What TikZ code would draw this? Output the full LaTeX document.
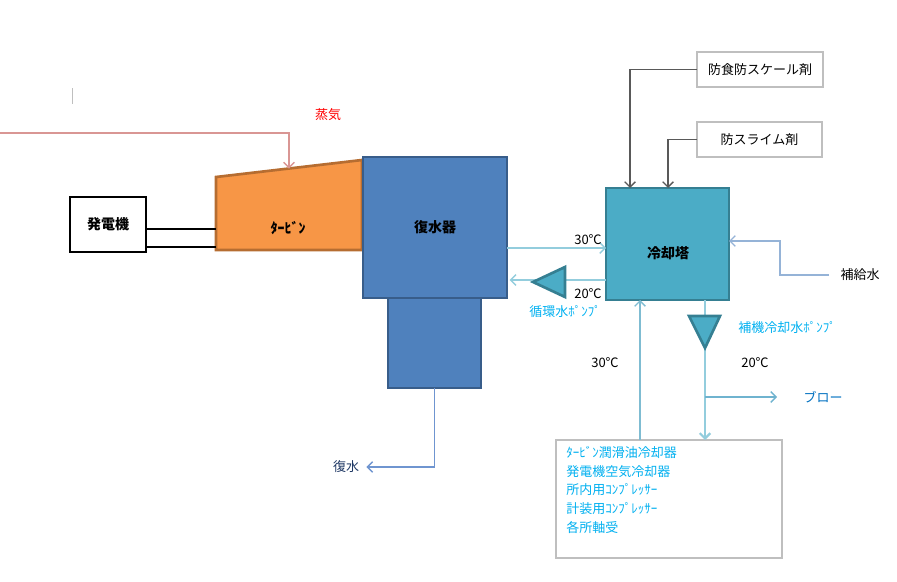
\documentclass[tikz,border=0pt]{standalone}
\usepackage{fontspec}
\setmainfont{Noto Sans CJK JP}
\usepackage{xcolor}
\usetikzlibrary{arrows.meta}
\definecolor{color_steam}{HTML}{D99694}
\definecolor{color_turb}{HTML}{F79646}
\definecolor{color_turbline}{HTML}{B66D31}
\definecolor{color_cond}{HTML}{4F81BD}
\definecolor{color_condline}{HTML}{385D8A}
\definecolor{color_tower}{HTML}{4BACC6}
\definecolor{color_towerline}{HTML}{357F92}
\definecolor{color_cw}{HTML}{93CDDD}
\definecolor{color_ret}{HTML}{7FBCD2}
\definecolor{color_mu}{HTML}{95B3D7}
\definecolor{color_drain}{HTML}{6F95D0}
\definecolor{color_blowline}{HTML}{6FB3CF}
\definecolor{color_cyan}{HTML}{00B0F0}
\definecolor{color_blow}{HTML}{0070C0}
\definecolor{color_navy}{HTML}{1F3864}
\definecolor{color_gray}{HTML}{BFBFBF}
\definecolor{color_chem}{HTML}{595959}

\tikzset{
  every node/.style={font=\fontsize{9.75}{12}\selectfont},
  boldlabel/.style={font=\fontsize{10.5}{12}\selectfont\bfseries},
  condbox/.style={draw=color_condline, fill=color_cond, line width=1.8pt, inner sep=0pt, outer sep=0pt},
  towerbox/.style={draw=color_towerline, fill=color_tower, line width=1.8pt, inner sep=0pt, outer sep=0pt},
  chembox/.style={draw=color_gray, fill=white, line width=0.8pt, inner sep=0pt, outer sep=0pt},
  pumpshape/.style={draw=color_towerline, fill=color_tower, line width=2pt, line join=miter},
  cwline/.style={color_cw, line width=1pt},
  >={Straight Barb[length=4pt,width=8pt]}
}

\begin{document}
\begin{tikzpicture}[x=0.75pt, y=-0.75pt]
		\useasboundingbox (0,0) rectangle (897,582);
		
		% trait isolé
		\draw[color_gray, line width=0.6pt] (72,88) -- (72,104);
		
		% Vapeur et turbine
		\draw[fill=color_turb, draw=color_turbline, line width=2pt] (216,177) -- (362,160) -- (362,250) -- (216,250) -- cycle;
		\node[boldlabel] (turb) at (288,228) {ﾀｰﾋﾞﾝ};
		\coordinate (turbin) at (289,168.5);
		\coordinate (steamsrc) at (0,133);
		\draw[->, color_steam, line width=1pt] (steamsrc) -| (turbin);
		\node[text=red] (steam) at (328,115) {蒸気};
		
		% Générateur
		\node[draw=black, line width=2pt, minimum width=57pt, minimum height=41.25pt, inner sep=0pt, outer sep=0pt, boldlabel] (gen) at (108,224.5) {発電機};
		\coordinate (shaftA) at (216,229);
		\coordinate (shaftB) at (216,247);
		\draw[black, line width=1.8pt] (gen.east |- shaftA) -- (shaftA);
		\draw[black, line width=1.8pt] (gen.east |- shaftB) -- (shaftB);
		
		% Condenseur
		\node[condbox, minimum width=69.75pt, minimum height=67.5pt] (hotwell) at (434.5,343) {};
		\node[condbox, minimum width=108pt, minimum height=105.75pt, boldlabel] (cond) at (435,227.5) {復水器};
		\node[text=color_navy] (fukusui) at (346,467) {復水};
		\draw[->, color_drain, line width=1pt] (hotwell.south) |- ([xshift=2pt]fukusui.east);
		
		% Tour de refroidissement
		\node[towerbox, minimum width=92.25pt, minimum height=84pt] (tower) at (667.5,244) {};
		\node[boldlabel] (towerlbl) at (668,253) {冷却塔};
		
		% Eau de circulation
		\coordinate (hotlvl) at (0,248);
		\coordinate (coldlvl) at (0,280);
		\draw[->, cwline] (cond.east |- hotlvl) -- (tower.west |- hotlvl);
		\draw[->, cwline, shorten >=2pt] (tower.west |- coldlvl) -- (cond.east |- coldlvl);
		\draw[pumpshape] (533,282) -- (565,267) -- (565,297) -- cycle;
		\node (tA) at (588,240) {30℃};
		\node (tB) at (588,294) {20℃};
		\node[text=color_cyan] (pumpA) at (565,311) {循環水ﾎﾟﾝﾌﾟ};
		
		% Produits chimiques
		\node[chembox, minimum width=94.5pt, minimum height=26.25pt] (chemA) at (760,69.5) {防食防スケール剤};
		\node[chembox, minimum width=93.75pt, minimum height=26.25pt] (chemB) at (759.5,139.5) {防スライム剤};
		\coordinate (dropA) at (630,0);
		\coordinate (dropB) at (668,0);
		\draw[->, color_chem, line width=1pt] (chemA.west) -| (tower.north -| dropA);
		\draw[->, color_chem, line width=1pt] (chemB.west) -| (tower.north -| dropB);
		
		% Eau d'appoint
		\node (hokyu) at (860,275) {補給水};
		\coordinate (mubend) at (780,241);
		\draw[->, color_mu, line width=1pt, shorten <=5pt] (hokyu.west) -| (mubend) -- (tower.east |- mubend);
		
		% Équipements auxiliaires
		\node[chembox, minimum width=169.5pt, minimum height=88.5pt] (equip) at (669,499) {};
		\node[anchor=north west, align=left, inner sep=0pt, text=color_cyan, font=\fontsize{9.75}{14}\selectfont] (equiplist) at (566,446)
		{ﾀｰﾋﾞﾝ潤滑油冷却器\\発電機空気冷却器\\所内用ｺﾝﾌﾟﾚｯｻｰ\\計装用ｺﾝﾌﾟﾚｯｻｰ\\各所軸受};
		
		% Eau de refroidissement auxiliaire
		\coordinate (auxlvl) at (705,0);
		\coordinate (retlvl) at (640,0);
		\draw[->, color_cw, line width=1.6pt] (tower.south -| auxlvl) -- (equip.north -| auxlvl);
		\draw[->, color_ret, line width=1pt] (equip.north -| retlvl) -- (tower.south -| retlvl);
		\draw[pumpshape] (689,316) -- (720,316) -- (705,348) -- cycle;
		\node[text=color_cyan] (pumpB) at (787,327) {補機冷却水ﾎﾟﾝﾌﾟ};
		\node (tC) at (755,363) {20℃};
		\node (tD) at (605,363) {30℃};
		
		% Purge
		\coordinate (blowpt) at (705,397);
		\coordinate (blowend) at (777,397);
		\node[text=color_blow] (blow) at (823,397) {ブロー};
		\draw[->, color_blowline, line width=1pt] (blowpt) -- (blowend);
	\end{tikzpicture}
\end{document}
